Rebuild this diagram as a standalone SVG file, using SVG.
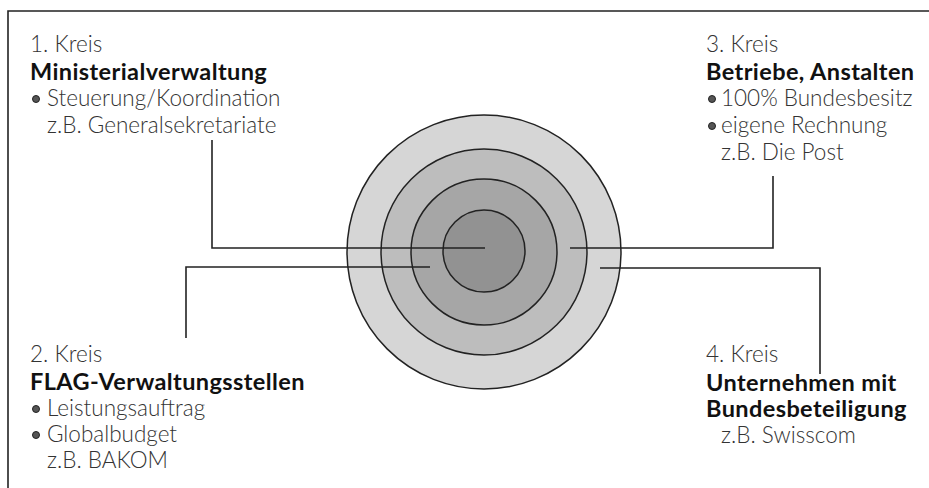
<svg xmlns="http://www.w3.org/2000/svg" width="929" height="488" viewBox="0 0 929 488">
<defs>
<style>
.t{font-family:"Lato","Liberation Sans",sans-serif;font-size:22.5px;fill:#333;font-weight:300}
.b{font-family:"Lato","Liberation Sans",sans-serif;font-size:23.5px;fill:#111;font-weight:bold;letter-spacing:0.4px}
.ln{stroke:#222;stroke-width:1.6;fill:none}
.ring{stroke:#222;stroke-width:1.5}
.dot{fill:#555;stroke:#222;stroke-width:1}
</style>
</defs>
<rect width="929" height="488" fill="#fff"/>
<path d="M8 488 V11 H929" class="ln" stroke="#666"/>
<g id="circles">
<circle cx="484" cy="252" r="137" fill="#d6d6d6" class="ring"/>
<circle cx="484" cy="252" r="103" fill="#bdbdbd" class="ring"/>
<circle cx="484" cy="252" r="73" fill="#a6a6a6" class="ring"/>
<circle cx="484" cy="251" r="41" fill="#929292" class="ring"/>
</g>
<g id="connectors">
<path d="M212 140 V248 H485" class="ln"/>
<path d="M186 338 V267 H430" class="ln"/>
<path d="M773 176 V248 H570" class="ln"/>
<path d="M600 268 H820 V374" class="ln"/>
</g>
<g id="kreis1">
<text x="30" y="52" class="t">1. Kreis</text>
<text x="30" y="80" class="b">Ministerialverwaltung</text>
<circle cx="36" cy="99" r="3.5" class="dot"/>
<text x="47" y="106" class="t">Steuerung/Koordination</text>
<text x="47" y="133" class="t">z.B. Generalsekretariate</text>
</g>
<g id="kreis2">
<text x="30" y="362" class="t">2. Kreis</text>
<text x="30" y="390" class="b">FLAG-Verwaltungsstellen</text>
<circle cx="36" cy="409" r="3.5" class="dot"/>
<text x="47" y="416" class="t">Leistungsauftrag</text>
<circle cx="36" cy="435" r="3.5" class="dot"/>
<text x="47" y="442" class="t">Globalbudget</text>
<text x="47" y="468" class="t">z.B. BAKOM</text>
</g>
<g id="kreis3">
<text x="706" y="52" class="t">3. Kreis</text>
<text x="706" y="80" class="b">Betriebe, Anstalten</text>
<circle cx="712" cy="99" r="3.5" class="dot"/>
<text x="721" y="106" class="t">100% Bundesbesitz</text>
<circle cx="712" cy="126" r="3.5" class="dot"/>
<text x="721" y="133" class="t">eigene Rechnung</text>
<text x="721" y="160" class="t">z.B. Die Post</text>
</g>
<g id="kreis4">
<text x="706" y="362" class="t">4. Kreis</text>
<text x="706" y="391" class="b">Unternehmen mit</text>
<text x="706" y="417" class="b">Bundesbeteiligung</text>
<text x="721" y="443" class="t">z.B. Swisscom</text>
</g>
</svg>
